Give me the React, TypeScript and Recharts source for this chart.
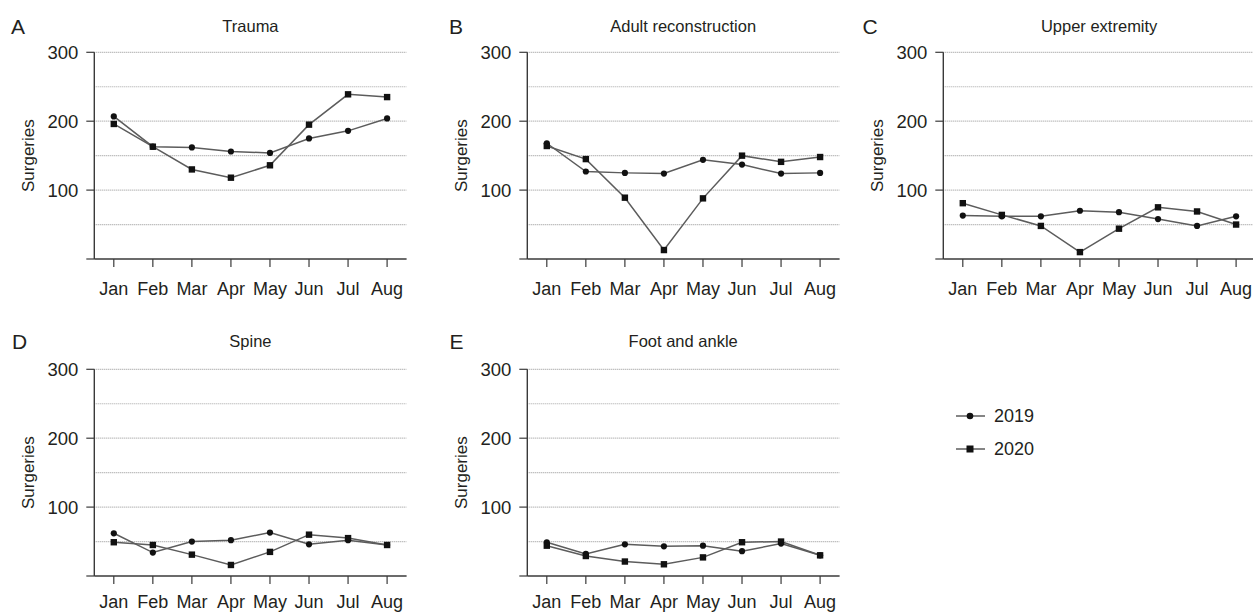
import { LineChart, Line, XAxis, YAxis, ReferenceLine } from "recharts";

const MONTHS = ["Jan", "Feb", "Mar", "Apr", "May", "Jun", "Jul", "Aug"];

const TRAUMA_2019 = [207, 163, 162, 156, 154, 175, 186, 204];
const TRAUMA_2020 = [196, 163, 130, 118, 136, 195, 239, 235];
const ADULT_2019 = [168, 127, 125, 124, 144, 137, 124, 125];
const ADULT_2020 = [164, 145, 89, 13, 88, 150, 141, 148];
const UPPER_2019 = [63, 62, 62, 70, 68, 58, 48, 62];
const UPPER_2020 = [81, 64, 48, 10, 44, 75, 69, 50];
const SPINE_2019 = [62, 34, 50, 52, 63, 46, 52, 45];
const SPINE_2020 = [49, 45, 31, 16, 35, 60, 55, 45];
const FOOT_2019 = [49, 32, 46, 43, 44, 36, 47, 30];
const FOOT_2020 = [44, 29, 21, 17, 27, 49, 50, 30];

const Y_TICKS = [0, 100, 200, 300];
const GRID_LEVELS = [50, 100, 150, 200, 250, 300];
const SERIES_NAMES = ["2019", "2020"];

const FONT = "'Liberation Sans', Arial, Helvetica, sans-serif";
const TEXT = "#231f20";
const LINE = "#5c5c5c";
const AXIS = "#3a3a3a";
const MARK = "#111";

const PANELS = [
  { letter: "A", title: "Trauma", a: TRAUMA_2019, b: TRAUMA_2020, left: 0, top: 0, lx: 11, ly: 34 },
  { letter: "B", title: "Adult reconstruction", a: ADULT_2019, b: ADULT_2020, left: 432.7, top: 0, lx: 449, ly: 34 },
  { letter: "C", title: "Upper extremity", a: UPPER_2019, b: UPPER_2020, left: 848.7, top: 0, lx: 862.5, ly: 34 },
  { letter: "D", title: "Spine", a: SPINE_2019, b: SPINE_2020, left: 0, top: 317, lx: 12, ly: 349 },
  { letter: "E", title: "Foot and ankle", a: FOOT_2019, b: FOOT_2020, left: 432.7, top: 317, lx: 449.5, ly: 349 },
];

const CHART_W = 412;
const CHART_H = 300;
const AXIS_W = 94.3;
const PLOT_TOP = 52.3;
const PLOT_W = 312.3;

function Square(props: any) {
  const { cx, cy, index } = props;
  if (cx == null || cy == null) return <g key={index} />;
  return <rect key={index} x={cx - 3.2} y={cy - 3.2} width={6.4} height={6.4} fill={MARK} />;
}

function Circle(props: any) {
  const { cx, cy, index } = props;
  if (cx == null || cy == null) return <g key={index} />;
  return <circle key={index} cx={cx} cy={cy} r={3.1} fill={MARK} />;
}

function YLabel(props: any) {
  const vb = props.viewBox;
  const cy = vb ? vb.y + vb.height / 2 : PLOT_TOP + 103;
  const cx = 29;
  return (
    <text
      x={cx}
      y={cy}
      transform={`rotate(-90 ${cx} ${cy})`}
      textAnchor="middle"
      dominantBaseline="central"
      fontFamily={FONT}
      fontSize={17}
      fill={TEXT}
    >
      Surgeries
    </text>
  );
}

function Panel({ p, bottomRow }: { p: (typeof PANELS)[number]; bottomRow: boolean }) {
  const data = MONTHS.map((m, i) => ({ month: m, y2019: p.a[i], y2020: p.b[i] }));
  return (
    <div style={{ position: "absolute", left: p.left, top: p.top, width: CHART_W, height: CHART_H }}>
      <LineChart
        width={CHART_W}
        height={CHART_H}
        data={data}
        margin={{ top: PLOT_TOP, right: CHART_W - AXIS_W - PLOT_W, left: 0, bottom: 0 }}
      >
        {GRID_LEVELS.map((v) => (
          <ReferenceLine key={v} y={v} stroke="#a6a6a6" strokeWidth={1.2} strokeDasharray="1 1" />
        ))}
        <XAxis
          dataKey="month"
          height={CHART_H - PLOT_TOP - 206.7}
          padding={{ left: 19.5, right: 19.5 }}
          tickSize={8}
          tickMargin={bottomRow ? 11 : 15}
          axisLine={{ stroke: AXIS, strokeWidth: 1.4 }}
          tickLine={{ stroke: AXIS, strokeWidth: 1.2 }}
          tick={{ fontFamily: FONT, fontSize: 18, fill: TEXT }}
          interval={0}
        />
        <YAxis
          width={AXIS_W}
          domain={[0, 300]}
          ticks={Y_TICKS}
          tickSize={8}
          tickMargin={8}
          tickFormatter={(v) => (v === 0 ? "" : String(v))}
          axisLine={{ stroke: AXIS, strokeWidth: 1.4 }}
          tickLine={{ stroke: AXIS, strokeWidth: 1.2 }}
          tick={{ fontFamily: FONT, fontSize: 18.5, fill: TEXT }}
          label={{ content: YLabel }}
        />
        <Line
          dataKey="y2019"
          name={SERIES_NAMES[0]}
          type="linear"
          stroke={LINE}
          strokeWidth={1.5}
          dot={Circle}
          isAnimationActive={false}
        />
        <Line
          dataKey="y2020"
          name={SERIES_NAMES[1]}
          type="linear"
          stroke={LINE}
          strokeWidth={1.5}
          dot={Square}
          isAnimationActive={false}
        />
      </LineChart>
    </div>
  );
}

export default function App() {
  return (
    <div
      style={{
        position: "absolute",
        left: 0,
        top: 0,
        width: 1253,
        height: 612,
        overflow: "hidden",
        background: "#fff",
      }}
    >
      {PANELS.map((p, i) => (
        <Panel key={p.letter} p={p} bottomRow={i >= 3} />
      ))}
      <svg
        width={1253}
        height={612}
        style={{ position: "absolute", left: 0, top: 0, pointerEvents: "none" }}
      >
        {PANELS.map((p) => (
          <g key={p.letter}>
            <text x={p.lx} y={p.ly} fontFamily={FONT} fontSize={21} fill={TEXT}>
              {p.letter}
            </text>
            <text
              x={p.left + AXIS_W + PLOT_W / 2}
              y={p.top === 0 ? 31.7 : 346.7}
              textAnchor="middle"
              fontFamily={FONT}
              fontSize={16.5}
              fill={TEXT}
            >
              {p.title}
            </text>
          </g>
        ))}
        {SERIES_NAMES.map((name, i) => {
          const y = 416 + i * 33;
          return (
            <g key={name}>
              <line x1={956} x2={985} y1={y} y2={y} stroke={LINE} strokeWidth={1.5} />
              {i === 0 ? (
                <circle cx={970} cy={y} r={3.3} fill={MARK} />
              ) : (
                <rect x={966.5} y={y - 3.5} width={7} height={7} fill={MARK} />
              )}
              <text x={994} y={y + 6.3} fontFamily={FONT} fontSize={18} fill={TEXT}>
                {name}
              </text>
            </g>
          );
        })}
      </svg>
    </div>
  );
}
